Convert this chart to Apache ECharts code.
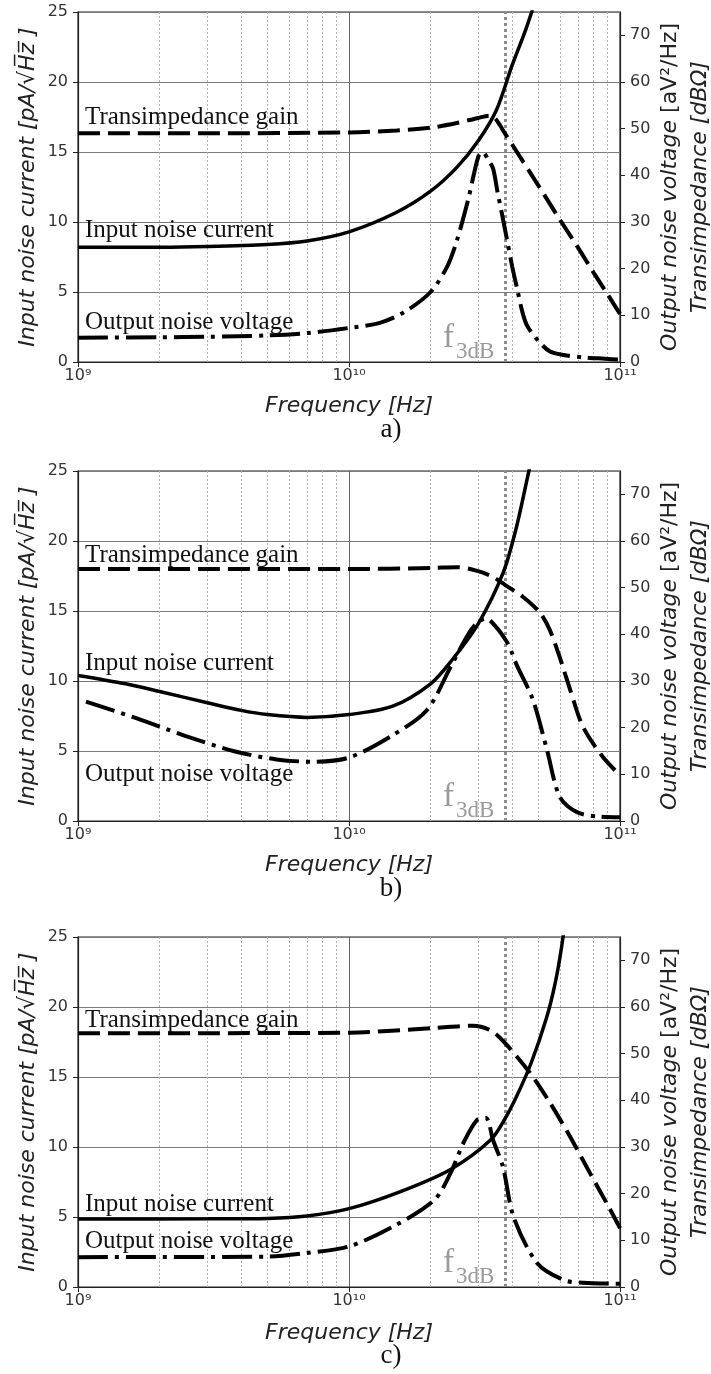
<!DOCTYPE html>
<html><head><meta charset="utf-8">
<script src="https://cdn.jsdelivr.net/npm/echarts@6/dist/echarts.min.js"></script>
<style>html,body{margin:0;padding:0;background:#fff}#c{width:711px;height:1374px}</style>
</head><body><div id="c"></div>
<script>
// ---------------- DATA ----------------
const xTickValues = [1e9, 1e10, 1e11];
const xTickLabels = ['10\u2079', '10\u00b9\u2070', '10\u00b9\u00b9'];
const leftTicks = [0, 5, 10, 15, 20, 25];
const rightTicks = [0, 10, 20, 30, 40, 50, 60, 70];
const minorGridFreqs = [2e9, 3e9, 4e9, 5e9, 6e9, 7e9, 8e9, 9e9, 2e10, 3e10, 4e10, 5e10, 6e10, 7e10, 8e10, 9e10];
const f3dB = 3.76e10;
const panelLabels = ['a)', 'b)', 'c)'];
const curveNames = ['Transimpedance gain', 'Input noise current', 'Output noise voltage'];

// Panel a
const freqTzA = [1e9, 3e9, 1e10, 1.5e10, 2e10, 2.5e10, 3e10, 3.3e10, 3.45e10, 3.6e10, 3.76e10, 4e10, 5e10, 6e10, 7e10, 8e10, 9e10, 1e11];
const tzA = [49.0, 49.0, 49.2, 49.6, 50.2, 51.2, 52.3, 52.8, 52.3, 50.8, 49.0, 46.6, 37.8, 30.5, 24.5, 19.1, 14.5, 10.3];
const freqInA = [1e9, 2e9, 3e9, 5e9, 7e9, 1e10, 1.5e10, 2e10, 2.5e10, 3e10, 3.5e10, 4e10, 4.5e10, 5e10];
const inA = [8.2, 8.2, 8.25, 8.4, 8.65, 9.3, 10.7, 12.2, 13.9, 15.8, 18.0, 21.2, 23.8, 26.5];
const freqOutA = [1e9, 2e9, 3e9, 5e9, 7e9, 1e10, 1.3e10, 1.6e10, 2e10, 2.3e10, 2.5e10, 2.75e10, 3e10, 3.12e10, 3.25e10, 3.4e10, 3.53e10, 3.66e10, 3.82e10, 4e10, 4.18e10, 4.35e10, 4.54e10, 5e10, 5.5e10, 6.2e10, 7.3e10, 8.8e10, 1e11];
const outA = [5.2, 5.3, 5.4, 5.7, 6.2, 7.3, 8.4, 10.7, 15, 20.4, 26, 34.7, 44, 45, 43.5, 41.5, 36.5, 32, 26.5, 20.5, 15.5, 11, 7.8, 4.5, 2.3, 1.5, 1.0, 0.7, 0.5];

// Panel b
const freqTzB = [1e9, 3e9, 1e10, 2e10, 2.5e10, 2.97e10, 3.4e10, 3.76e10, 4.39e10, 5.07e10, 5.5e10, 6e10, 6.6e10, 7.3e10, 8.65e10, 1e11];
const tzB = [54, 54, 54, 54.2, 54.4, 53.6, 52.3, 50.6, 48, 44.6, 41, 35, 27.5, 20.2, 13.7, 9.8];
const freqInB = [1e9, 1.5e9, 2e9, 3e9, 4e9, 5e9, 7e9, 1e10, 1.45e10, 2e10, 2.4e10, 3e10, 3.7e10, 4.15e10, 4.6e10, 5e10];
const inB = [10.4, 9.8, 9.25, 8.45, 7.9, 7.6, 7.4, 7.6, 8.2, 9.8, 11.5, 14.1, 17.7, 21, 24.9, 28];
const freqOutB = [1.07e9, 1.65e9, 2.5e9, 3.8e9, 5.4e9, 7.3e9, 1e10, 1.45e10, 1.94e10, 2.37e10, 2.72e10, 2.96e10, 3.2e10, 3.5e10, 3.82e10, 3.99e10, 4.16e10, 4.77e10, 5.38e10, 6e10, 6.94e10, 8.5e10, 1e11];
const outB = [25.6, 22, 18.2, 14.9, 13.2, 12.7, 13.6, 18.4, 23.8, 33, 39.5, 42.4, 43.4, 41.5, 38.4, 36.1, 33.4, 26, 15.2, 5.1, 1.9, 0.9, 0.8];

// Panel c
const freqTzC = [1e9, 3e9, 1e10, 2.06e10, 2.86e10, 3.33e10, 3.76e10, 4.65e10, 5.5e10, 6.5e10, 7.75e10, 9.1e10, 1e11];
const tzC = [54.4, 54.4, 54.5, 55.5, 56, 55, 52.3, 45.9, 39.6, 32.5, 24.4, 17.1, 12.6];
const freqInC = [1e9, 3e9, 5e9, 7e9, 1e10, 1.54e10, 2.37e10, 3.33e10, 3.76e10, 4.15e10, 4.7e10, 5.35e10, 5.75e10, 6.1e10, 6.45e10];
const inC = [4.86, 4.87, 4.9, 5.07, 5.6, 6.8, 8.4, 10.5, 12.0, 13.6, 16.0, 19.2, 21.6, 24.4, 28];
const freqOutC = [1e9, 5e9, 7e9, 1e10, 1.45e10, 2.06e10, 2.37e10, 2.65e10, 2.97e10, 3.2e10, 3.4e10, 3.7e10, 4.05e10, 4.95e10, 6.2e10, 7.3e10, 1e11];
const outC = [6.4, 6.5, 7.3, 8.7, 12.9, 18.6, 24.4, 31, 35.8, 36.2, 31.5, 25.7, 15, 5.1, 1.5, 0.9, 0.7];

// ---------------- LAYOUT ----------------
const panels = [
  {tz: [freqTzA, tzA], inp: [freqInA, inA], out: [freqOutA, outA]},
  {tz: [freqTzB, tzB], inp: [freqInB, inB], out: [freqOutB, outB]},
  {tz: [freqTzC, tzC], inp: [freqInC, inC], out: [freqOutC, outC]}
];
const TOPS = [12, 471, 937];
const H = 350, L = 78, W = 542;
const annoY = [[117, 230, 322], [555.5, 663, 774], [1020, 1204, 1241]];
const freqNameY = [406, 865, 1333];
const captionY = [430, 889, 1356];

const zip = (xs, ys) => xs.map((x, i) => [x, ys[i]]);
const AX = '#222';
const SANS = 'DejaVu Sans';
const SERIF = 'Liberation Serif';

const grid = [], xAxis = [], yAxis = [], series = [], graphic = [];
TOPS.forEach((top, p) => {
  grid.push({left: L, top: top, width: W, height: H, show: true, borderColor: AX, borderWidth: 1.2, backgroundColor: 'transparent'});
  xAxis.push({
    type: 'log', logBase: 10, gridIndex: p, min: 1e9, max: 1e11,
    axisLine: {show: true, lineStyle: {color: AX, width: 1.2}},
    axisTick: {show: true, length: 5, lineStyle: {color: AX}},
    axisLabel: {fontFamily: SANS, fontSize: 16, color: '#333', margin: 6,
      formatter: v => { const e = Math.round(Math.log10(v)); const i = xTickValues.findIndex(t => Math.round(Math.log10(t)) === e); return i >= 0 ? xTickLabels[i] : ''; }},
    splitLine: {show: true, lineStyle: {color: '#666', width: 1}}
  });
  yAxis.push({
    type: 'value', gridIndex: p, position: 'left', min: leftTicks[0], max: leftTicks[leftTicks.length - 1], interval: 5,
    axisLine: {show: true, lineStyle: {color: AX, width: 1.2}},
    axisTick: {show: true, length: 5, lineStyle: {color: AX}},
    axisLabel: {fontFamily: SANS, fontSize: 16, color: '#333', margin: 10},
    splitLine: {show: true, lineStyle: {color: '#7a7a7a', width: 1}}
  });
  yAxis.push({
    type: 'value', gridIndex: p, position: 'right', min: 0, max: 75, interval: 10,
    axisLine: {show: true, lineStyle: {color: AX, width: 1.2}},
    axisTick: {show: true, length: 5, lineStyle: {color: AX}, customValues: rightTicks},
    axisLabel: {fontFamily: SANS, fontSize: 16, color: '#333', margin: 10, customValues: rightTicks,
      formatter: v => rightTicks.indexOf(v) >= 0 ? String(v) : ''},
    splitLine: {show: false}
  });
  const d = panels[p];
  series.push({
    type: 'line', xAxisIndex: p, yAxisIndex: 2 * p, data: [], silent: true, z: 1,
    markLine: {silent: true, z: 1, symbol: ['none', 'none'], label: {show: false}, animation: false,
      lineStyle: {type: [2, 2], color: '#b0b0b0', width: 1},
      data: minorGridFreqs.map(f => ({xAxis: f}))}
  });
  series.push({
    type: 'line', xAxisIndex: p, yAxisIndex: 2 * p, data: [], silent: true, z: 2,
    markLine: {silent: true, z: 2, symbol: ['none', 'none'], label: {show: false}, animation: false,
      lineStyle: {type: [3, 3], color: '#8c8c8c', width: 3},
      data: [{xAxis: f3dB}]}
  });
  series.push({
    name: curveNames[0], type: 'line', xAxisIndex: p, yAxisIndex: 2 * p + 1, z: 10,
    data: zip(d.tz[0], d.tz[1]), showSymbol: false, smooth: 0.3,
    lineStyle: {color: '#000', width: 4, type: [22, 8], cap: 'butt'}
  });
  series.push({
    name: curveNames[1], type: 'line', xAxisIndex: p, yAxisIndex: 2 * p, z: 10,
    data: zip(d.inp[0], d.inp[1]), showSymbol: false, smooth: 0.3,
    lineStyle: {color: '#000', width: 3.5, type: 'solid'}
  });
  series.push({
    name: curveNames[2], type: 'line', xAxisIndex: p, yAxisIndex: 2 * p + 1, z: 10,
    data: zip(d.out[0], d.out[1]), showSymbol: false, smooth: 0.3,
    lineStyle: {color: '#000', width: 4, type: [30, 7, 4, 7], cap: 'butt'}
  });

  curveNames.forEach((nm, k) => {
    graphic.push({type: 'text', x: 85, y: annoY[p][k], silent: true, z: 20,
      style: {text: nm, fontFamily: SERIF, fontSize: 25, fill: '#111', align: 'left', verticalAlign: 'middle'}});
  });
  const bottom = top + H;
  graphic.push({type: 'text', x: 443, y: bottom - 7, silent: true, z: 20,
    style: {text: 'f', fontFamily: SERIF, fontSize: 33, fill: '#999', align: 'left', verticalAlign: 'bottom'}});
  graphic.push({type: 'text', x: 456, y: bottom + 1, silent: true, z: 20,
    style: {text: '3dB', fontFamily: SERIF, fontSize: 23, fill: '#999', align: 'left', verticalAlign: 'bottom'}});
  const cy = top + H / 2;
  graphic.push({type: 'text', x: 28, y: cy, rotation: Math.PI / 2, silent: true,
    style: {text: 'Input noise current [pA/\u221aH\u0305z\u0305 ]', fontFamily: SANS, fontStyle: 'italic', fontSize: 22, fill: '#222', align: 'center', verticalAlign: 'middle'}});
  graphic.push({type: 'text', x: 670, y: cy, rotation: Math.PI / 2, silent: true,
    style: {text: '{i|Output noise voltage }{n|[aV\u00b2/Hz]}', fontSize: 22, fill: '#222', align: 'center', verticalAlign: 'middle',
      rich: {i: {fontFamily: SANS, fontStyle: 'italic', fontSize: 22, fill: '#222'}, n: {fontFamily: SANS, fontSize: 22, fill: '#222'}}}});
  graphic.push({type: 'text', x: 700, y: cy, rotation: Math.PI / 2, silent: true,
    style: {text: 'Transimpedance [dB\u03a9]', fontFamily: SANS, fontStyle: 'italic', fontSize: 22, fill: '#222', align: 'center', verticalAlign: 'middle'}});
  graphic.push({type: 'text', x: L + W / 2, y: freqNameY[p], silent: true,
    style: {text: 'Frequency [Hz]', fontFamily: SANS, fontStyle: 'italic', fontSize: 22, fill: '#222', align: 'center', verticalAlign: 'middle'}});
  graphic.push({type: 'text', x: 391, y: captionY[p], silent: true,
    style: {text: panelLabels[p], fontFamily: SERIF, fontSize: 27, fill: '#111', align: 'center', verticalAlign: 'middle'}});
});

const chart = echarts.init(document.getElementById('c'), null, {renderer: 'canvas'});
chart.setOption({animation: false, backgroundColor: '#fff', grid, xAxis, yAxis, series, graphic});
</script></body></html>
